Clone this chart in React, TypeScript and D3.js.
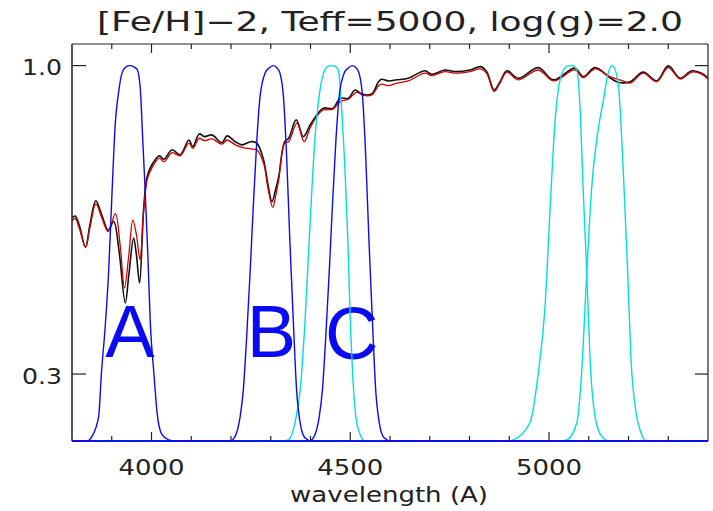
import React from 'react';
import * as d3 from 'd3';

// ---------- data ----------
const titleText = '[Fe/H]\u22122, Teff=5000, log(g)=2.0';
const xLabel = 'wavelength (A)';

const xMajorTicks = [4000, 4500, 5000];
const xMinorTicks = [3900, 4100, 4200, 4300, 4400, 4600, 4700, 4800, 4900, 5100, 5200, 5300];
const yTicks = [0.3, 1.0];
const yTickLabels = ['0.3', '1.0'];

// model spectrum (black)
const blackWave = [3800, 3808, 3818, 3834, 3845, 3860, 3875, 3891, 3905, 3918,
  3934, 3943, 3955, 3962, 3970, 3980, 3989, 4001, 4020, 4031,
  4052, 4072, 4094, 4104, 4120, 4133, 4152, 4177, 4190, 4211,
  4228, 4249, 4265, 4282, 4293, 4303, 4311, 4320, 4335, 4345,
  4364, 4382, 4399, 4416, 4432, 4457, 4474, 4495, 4512, 4529,
  4554, 4571, 4579, 4596, 4617, 4646, 4688, 4705, 4738, 4763,
  4801, 4828, 4843, 4862, 4877, 4894, 4923, 4973, 5011, 5065,
  5086, 5116, 5153, 5174, 5204, 5237, 5271, 5300, 5330, 5359,
  5384, 5400];
const blackFlux = [0.552, 0.556, 0.537, 0.492, 0.537, 0.590, 0.558, 0.526, 0.544, 0.487,
  0.396, 0.442, 0.510, 0.478, 0.428, 0.569, 0.648, 0.679, 0.703, 0.694,
  0.720, 0.706, 0.748, 0.729, 0.766, 0.758, 0.763, 0.740, 0.760, 0.743,
  0.734, 0.743, 0.739, 0.692, 0.628, 0.588, 0.611, 0.648, 0.743, 0.753,
  0.809, 0.758, 0.793, 0.825, 0.847, 0.847, 0.880, 0.880, 0.909, 0.895,
  0.895, 0.939, 0.948, 0.942, 0.946, 0.952, 0.980, 0.967, 0.983, 0.977,
  0.983, 0.996, 0.977, 0.909, 0.939, 0.980, 0.952, 0.992, 0.946, 0.990,
  0.958, 0.992, 0.954, 0.937, 0.939, 0.975, 0.942, 0.999, 0.952, 0.980,
  0.971, 0.953];

// model spectrum (red)
const redWave = [3800, 3808, 3818, 3834, 3845, 3860, 3875, 3891, 3909, 3921,
  3932, 3943, 3953, 3962, 3971, 3980, 3989, 4001, 4020, 4031,
  4052, 4072, 4094, 4104, 4120, 4133, 4152, 4177, 4190, 4211,
  4228, 4253, 4265, 4282, 4293, 4305, 4312, 4320, 4335, 4345,
  4366, 4384, 4399, 4416, 4432, 4457, 4474, 4495, 4516, 4533,
  4554, 4571, 4579, 4596, 4617, 4646, 4688, 4705, 4738, 4763,
  4801, 4828, 4843, 4862, 4877, 4894, 4923, 4973, 5011, 5065,
  5086, 5116, 5153, 5186, 5204, 5237, 5271, 5300, 5330, 5359,
  5384, 5400];
const redFlux = [0.545, 0.551, 0.531, 0.492, 0.531, 0.583, 0.552, 0.523, 0.561, 0.497,
  0.420, 0.478, 0.547, 0.517, 0.469, 0.563, 0.640, 0.671, 0.697, 0.687,
  0.712, 0.703, 0.739, 0.724, 0.753, 0.746, 0.751, 0.736, 0.748, 0.734,
  0.727, 0.722, 0.720, 0.683, 0.620, 0.575, 0.599, 0.640, 0.739, 0.743,
  0.799, 0.743, 0.784, 0.820, 0.841, 0.844, 0.869, 0.877, 0.901, 0.890,
  0.892, 0.924, 0.930, 0.925, 0.934, 0.942, 0.971, 0.962, 0.977, 0.971,
  0.977, 0.987, 0.971, 0.904, 0.935, 0.975, 0.946, 0.983, 0.942, 0.983,
  0.954, 0.987, 0.958, 0.942, 0.934, 0.971, 0.939, 0.992, 0.949, 0.975,
  0.967, 0.949];

// filter A (blue)
const filterAWave = [3800, 3838, 3850, 3867, 3874, 3883, 3892, 3901, 3909, 3917, 3926, 3936, 3946,
  3956, 3964, 3972, 3978, 3984, 3991, 3997, 4006, 4014, 4026, 4043, 4059, 5400];
const filterATrans = [0.01, 0.2, 0.235, 0.254, 0.301, 0.357, 0.445, 0.616, 0.800, 0.899, 0.972, 0.995, 1.0,
  0.995, 0.985, 0.910, 0.748, 0.616, 0.474, 0.366, 0.301, 0.258, 0.237, 0.232, 0.2, 0.01];

// filter B (blue)
const filterBWave = [3800, 4198, 4210, 4223, 4231, 4239, 4248, 4256, 4265, 4273,
  4286, 4296, 4306, 4316, 4323, 4332, 4340, 4348, 4357, 4365, 4374, 4386, 4403, 5400];
const filterBTrans = [0.01, 0.2, 0.235, 0.254, 0.282, 0.343, 0.445, 0.576, 0.748, 0.885,
  0.972, 0.991, 1.0, 0.991, 0.972, 0.885, 0.700, 0.506, 0.366, 0.282, 0.248, 0.234, 0.2, 0.01];

// filter C (blue)
const filterCWave = [3800, 4397, 4409, 4422, 4430, 4438, 4447, 4455, 4464, 4472,
  4485, 4495, 4505, 4515, 4522, 4531, 4539, 4547, 4556, 4564, 4573, 4585, 4602, 5400];
const filterCTrans = [0.01, 0.2, 0.235, 0.254, 0.282, 0.343, 0.445, 0.576, 0.748, 0.885,
  0.972, 0.991, 1.0, 0.991, 0.972, 0.885, 0.700, 0.506, 0.366, 0.282, 0.248, 0.234, 0.2, 0.01];

// cyan filters
const cyan1Wave = [3800, 4331, 4344, 4361, 4374, 4386, 4399, 4411, 4424, 4436,
  4444, 4452, 4462, 4470, 4478, 4487, 4494, 4499, 4506, 4514, 4525, 4537, 5400];
const cyan1Trans = [0.01, 0.2, 0.232, 0.248, 0.282, 0.366, 0.541, 0.748, 0.910, 0.983,
  0.997, 1.0, 0.997, 0.983, 0.851, 0.658, 0.506, 0.390, 0.301, 0.254, 0.237, 0.2, 0.01];

const cyan2Wave = [3800, 4894, 4910, 4952, 4973, 4990, 5003, 5015, 5028, 5045,
  5058, 5070, 5078, 5086, 5095, 5103, 5116, 5133, 5153, 5400];
const cyan2Trans = [0.01, 0.2, 0.232, 0.248, 0.301, 0.390, 0.576, 0.800, 0.946, 0.997,
  1.0, 0.983, 0.851, 0.616, 0.445, 0.321, 0.254, 0.235, 0.2, 0.01];

const cyan3Wave = [3800, 5028, 5045, 5070, 5082, 5095, 5107, 5120, 5137, 5149,
  5159, 5173, 5181, 5189, 5198, 5206, 5219, 5231, 5244, 5400];
const cyan3Trans = [0.01, 0.2, 0.232, 0.248, 0.301, 0.445, 0.616, 0.748, 0.875, 0.972,
  1.0, 0.946, 0.800, 0.616, 0.445, 0.321, 0.258, 0.239, 0.2, 0.01];

const bandLabels = ['A', 'B', 'C'];
const bandLabelWave = [3946, 4302, 4504];
const bandLabelFlux = [0.321, 0.321, 0.318];

// ---------- component ----------
const FONT = "'DejaVu Sans', sans-serif";

export default function App() {
  const left = 72, right = 708, top = 44, bottom = 441;
  const x = d3.scaleLinear().domain([3800, 5400]).range([left, right]);
  const y = d3.scaleLog().domain([0.231, 1.088]).range([bottom, top]).clamp(true);

  const zip = (a: number[], b: number[]) => a.map((v, i) => [v, b[i]] as [number, number]);
  const specLine = d3.line<[number, number]>()
    .x(d => x(d[0])).y(d => y(d[1]))
    .curve(d3.curveCatmullRom.alpha(0.5));
  const filtLine = d3.line<[number, number]>()
    .x(d => x(d[0])).y(d => y(d[1]))
    .curve(d3.curveMonotoneX);

  const blue = '#0a0af5';
  const cyan = '#00dede';
  const axisColor = '#222';

  return (
    <div style={{ position: 'absolute', left: 0, top: 0 }}>
      <svg width={713} height={511} style={{ display: 'block', background: '#fff' }}>
        <defs>
          <clipPath id="plotClip">
            <rect x={left} y={top} width={right - left} height={bottom - top + 1.5} />
          </clipPath>
        </defs>
        <rect x={0} y={0} width={713} height={511} fill="#fff" />

        {/* title */}
        <text x={390} y={31} textAnchor="middle" fontFamily={FONT} fontSize={26}
          fill="#222" textLength={586} lengthAdjust="spacingAndGlyphs">{titleText}</text>

        {/* band labels */}
        {bandLabels.map((l, i) => (
          <text key={l} x={x(bandLabelWave[i])} y={y(bandLabelFlux[i])} textAnchor="middle"
            fontFamily="'Liberation Sans', Arial, sans-serif" fontSize={74} fill={blue}>{l}</text>
        ))}

        <g clipPath="url(#plotClip)">
          <path d={specLine(zip(blackWave, blackFlux)) || ''} fill="none" stroke="#111" strokeWidth={1.6} />
          <path d={specLine(zip(redWave, redFlux)) || ''} fill="none" stroke="#d00000" strokeWidth={1.3} />
          <path d={filtLine(zip(cyan1Wave, cyan1Trans)) || ''} fill="none" stroke={cyan} strokeWidth={1.4} />
          <path d={filtLine(zip(cyan2Wave, cyan2Trans)) || ''} fill="none" stroke={cyan} strokeWidth={1.4} />
          <path d={filtLine(zip(cyan3Wave, cyan3Trans)) || ''} fill="none" stroke={cyan} strokeWidth={1.4} />
          <path d={filtLine(zip(filterAWave, filterATrans)) || ''} fill="none" stroke={blue} strokeWidth={1.4} />
          <path d={filtLine(zip(filterBWave, filterBTrans)) || ''} fill="none" stroke={blue} strokeWidth={1.4} />
          <path d={filtLine(zip(filterCWave, filterCTrans)) || ''} fill="none" stroke={blue} strokeWidth={1.4} />
        </g>

        {/* frame */}
        <line x1={left} x2={right} y1={top} y2={top} stroke={axisColor} strokeWidth={1.2} />
        <line x1={left} x2={left} y1={top} y2={bottom} stroke={axisColor} strokeWidth={1.5} />
        <line x1={right} x2={right} y1={top} y2={bottom} stroke={axisColor} strokeWidth={1.2} />

        {/* x ticks */}
        {xMajorTicks.map(t => (
          <g key={'M' + t}>
            <line x1={x(t)} x2={x(t)} y1={bottom} y2={bottom - 9} stroke={axisColor} strokeWidth={1.2} />
            <line x1={x(t)} x2={x(t)} y1={top} y2={top + 9} stroke={axisColor} strokeWidth={1.2} />
            <text x={x(t)} y={475} textAnchor="middle" fontFamily={FONT} fontSize={22}
              fill="#222" textLength={66} lengthAdjust="spacingAndGlyphs">{t}</text>
          </g>
        ))}
        {xMinorTicks.map(t => (
          <g key={'m' + t}>
            <line x1={x(t)} x2={x(t)} y1={bottom} y2={bottom - 5} stroke={axisColor} strokeWidth={1.2} />
            <line x1={x(t)} x2={x(t)} y1={top} y2={top + 5} stroke={axisColor} strokeWidth={1.2} />
          </g>
        ))}

        {/* y ticks */}
        {yTicks.map((t, i) => (
          <g key={'y' + t}>
            <line x1={left} x2={left + 14} y1={y(t)} y2={y(t)} stroke={axisColor} strokeWidth={1.2} />
            <line x1={right} x2={right - 13} y1={y(t)} y2={y(t)} stroke={axisColor} strokeWidth={1.2} />
            <text x={62} y={y(t) + 9.5} textAnchor="end" fontFamily={FONT} fontSize={21}
              fill="#222" textLength={40} lengthAdjust="spacingAndGlyphs">{yTickLabels[i]}</text>
          </g>
        ))}

        {/* x axis label */}
        <text x={389} y={502} textAnchor="middle" fontFamily={FONT} fontSize={22}
          fill="#222" textLength={198} lengthAdjust="spacingAndGlyphs">{xLabel}</text>
      </svg>
    </div>
  );
}
